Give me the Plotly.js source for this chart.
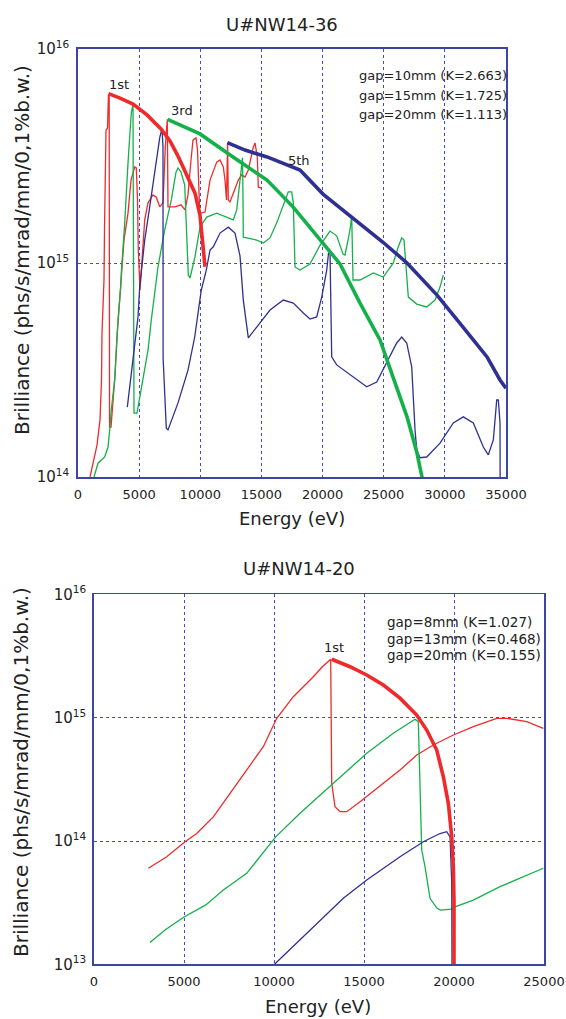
<!DOCTYPE html>
<html>
<head>
<meta charset="utf-8">
<script src="https://cdn.plot.ly/plotly-3.0.1.min.js"></script>
<style>html,body{margin:0;padding:0;background:#fff;}#chart{width:566px;height:1019px;}</style>
</head>
<body>
<div id="chart"></div>
<script>
// ---------- Top chart: U#NW14-36 ----------
const topTitle = "U#NW14-36";
const topLegend = ["gap=10mm (K=2.663)", "gap=15mm (K=1.725)", "gap=20mm (K=1.113)"];
const topXTicks = [0, 5000, 10000, 15000, 20000, 25000, 30000, 35000];
const topYTicks = [1e14, 1e15, 1e16];
const topYTickText = ["10<sup>14</sup>", "10<sup>15</sup>", "10<sup>16</sup>"];

// thin spectra
const topRedE = [981,1227,1554,1799,1922,1963,2126,2167,2208,2290,2413,2460,2490,2550,2580,2700,2862,3026,3189,3410,3541,3762,4089,4334,4637,4768,4866,4931,5070,5234,5455,5725,6134,6403,6681,6951,7139,7303,7360,7933,8423,8750,8996,9241,9405,9650,9773,9953,10059,10386,10795,11343,11613,11883,12022,12144,12185,12234,12292,12431,12701,13109,13387,13657,13927,14336,14475,14663,14745,15023];
const topRedB = [1.0e14,1.17e14,1.41e14,1.85e14,2.84e14,4.71e14,8.33e14,1.43e15,2.58e15,4.18e15,4.27e15,5.78e15,6.1e15,6.0e15,1.71e14,1.71e14,2.29e14,3.0e14,4.51e14,6.93e14,9.27e14,1.28e15,1.71e15,2.44e15,2.81e15,2.78e15,1.97e15,1.15e15,7.48e14,1.03e15,1.59e15,1.91e15,2.08e15,2.03e15,1.83e15,1.91e15,3.48e15,4.69e15,1.83e15,1.83e15,1.87e15,1.77e15,2.08e15,3.03e15,3.76e15,3.84e15,3.37e15,1.73e15,1.71e15,1.73e15,2.44e15,2.96e15,3.03e15,2.81e15,2.44e15,1.97e15,3.64e15,3.64e15,1.97e15,1.93e15,2.12e15,2.44e15,2.58e15,2.52e15,2.72e15,3.48e15,3.64e15,3.13e15,2.26e15,2.24e15];

const topGreenE = [1309,1636,2184,2453,2592,2723,3001,3132,3271,3492,3541,3819,3950,4089,4228,4359,4498,4539,4580,4825,5152,5455,5725,5994,6215,6542,7090,7630,8014,8178,8423,8726,8873,9020,9159,9568,9977,10525,11343,12161,12701,12979,13248,13453,13494,13518,13796,14614,15154,15702,16250,16765,17198,17476,17607,17746,18155,18973,19791,20609,21157,21672,21835,22081,22244,22383,22490,23062,24150,24967,25785,26194,26472,26660,26881,27012,27699,28517,29195,29604,29874];
const topGreenB = [1.0e14,1.16e14,1.24e14,1.38e14,1.66e14,2.06e14,2.84e14,3.80e14,5.42e14,7.72e14,8.98e14,1.54e15,2.19e15,2.93e15,3.88e15,5.02e15,5.53e15,1.97e15,1.99e14,1.99e14,2.55e14,3.23e14,3.92e14,5.42e14,6.71e14,9.58e14,1.43e15,1.97e15,2.66e15,2.78e15,2.66e15,2.31e15,1.43e15,8.79e14,8.51e14,1.07e15,1.47e15,1.64e15,1.71e15,1.64e15,1.59e15,1.77e15,2.44e15,3.10e15,1.97e15,1.32e15,1.31e15,1.28e15,1.24e15,1.31e15,1.54e15,1.87e15,2.15e15,2.15e15,1.91e15,9.58e14,9.27e14,9.89e14,1.21e15,1.41e15,1.34e15,1.10e15,1.09e15,1.28e15,1.43e15,1.66e15,8.33e14,8.33e14,8.98e14,8.60e14,1.0e15,1.19e15,1.31e15,1.28e15,8.79e14,6.93e14,6.43e14,6.23e14,6.71e14,7.72e14,8.79e14];

const topBlueE = [4032,4228,4359,4637,4907,5046,5177,5455,5864,6272,6681,6870,6951,6960,7221,7360,8178,8996,9544,10083,10492,10795,11065,11613,12292,12839,13248,13518,13796,13927,14614,15702,16789,17607,18425,18973,19521,19930,20339,20486,20609,20690,20747,21157,22514,23610,24428,25245,26063,26472,26881,27290,27421,27560,27699,27968,28517,29604,30692,31510,32328,33146,33555,33964,34241,34372,34511,34520];
const topBlueB = [2.12e14,2.64e14,2.93e14,4.23e14,5.60e14,7.72e14,9.08e14,1.28e15,1.83e15,2.72e15,3.84e15,4.25e15,3.48e15,3.60e14,1.69e14,1.66e14,2.22e14,3.16e14,4.51e14,7.48e14,9.27e14,1.15e15,1.19e15,1.38e15,1.47e15,1.38e15,1.08e15,6.71e14,4.86e14,4.47e14,5.02e14,6.03e14,6.71e14,6.50e14,5.84e14,5.47e14,5.60e14,6.93e14,9.27e14,1.11e15,1.12e15,6.71e14,3.64e14,3.34e14,2.93e14,2.64e14,2.78e14,3.41e14,4.23e14,4.51e14,4.23e14,3.27e14,2.29e14,1.66e14,1.34e14,1.23e14,1.24e14,1.44e14,1.79e14,1.91e14,1.79e14,1.38e14,1.27e14,1.49e14,2.29e14,2.29e14,1.79e14,9.0e13];

// thick harmonic tuning curves
const top1stE = [2494,3435,4498,5643,6788,7524,8178,8914,9568,9977,10222,10386];
const top1stB = [6.19e15,5.90e15,5.53e15,4.92e15,4.23e15,3.72e15,3.16e15,2.58e15,2.12e15,1.67e15,1.21e15,9.6e14];
const top3rdE = [7319,8750,9977,12676,15456,17583,20036,21426,23062,24698,25761,26906,27724,28132,28300];
const top3rdB = [4.69e15,4.33e15,4.01e15,3.13e15,2.44e15,1.83e15,1.24e15,9.9e14,6.5e14,4.37e14,2.93e14,1.91e14,1.29e14,1.0e14,9.0e13];
const top5thE = [12210,13657,15456,18155,20036,22244,24943,26906,29359,31485,33448,34511,34920,35000];
const top5thB = [3.65e15,3.37e15,3.13e15,2.72e15,2.10e15,1.67e15,1.25e15,1.0e15,7.08e14,5.02e14,3.64e14,2.84e14,2.64e14,2.6e14];

// ---------- Bottom chart: U#NW14-20 ----------
const botTitle = "U#NW14-20";
const botLegend = ["gap=8mm (K=1.027)", "gap=13mm (K=0.468)", "gap=20mm (K=0.155)"];
const botXTicks = [0, 5000, 10000, 15000, 20000, 25000];
const botYTicks = [1e13, 1e14, 1e15, 1e16];
const botYTickText = ["10<sup>13</sup>", "10<sup>14</sup>", "10<sup>15</sup>", "10<sup>16</sup>"];

const botRedE = [3017,4039,5056,5706,6628,7556,8484,9406,10151,11073,12184,12700,13151,13178,13206,13390,13668,14040,14779,16073,17001,17929,18851,19963,21073,22373,22929,24040,24963];
const botRedB = [6.01e13,7.46e13,9.86e13,1.15e14,1.57e14,2.44e14,3.77e14,5.82e14,9.89e14,1.48e15,2.15e15,2.6e15,2.98e15,1.39e15,2.94e14,1.90e14,1.73e14,1.73e14,2.08e14,2.94e14,3.77e14,4.98e14,6.01e14,7.24e14,8.45e14,9.89e14,9.89e14,9.29e14,8.20e14];

const botGreenE = [3111,3945,5000,6212,7184,8484,10095,11445,13296,15151,16629,17834,18018,18112,18206,18390,18668,19045,19245,19851,20051,21073,22556,24963];
const botGreenB = [1.50e13,1.90e13,2.42e13,3.03e13,4.01e13,5.47e13,1.08e14,1.68e14,2.94e14,5.14e14,7.47e14,9.71e14,9.29e14,2.94e14,8.45e13,6.19e13,3.43e13,2.86e13,2.75e13,2.80e13,2.92e13,3.32e13,4.26e13,6.01e13];

const botBlueE = [10028,11445,13851,15151,17001,18296,19223,19596,19780,19874,19890];
const botBlueB = [1.0e13,1.57e13,3.43e13,4.83e13,7.46e13,9.86e13,1.15e14,1.19e14,1.08e14,4.54e13,9.0e12];

const bot1stE = [13206,14223,15151,16073,17001,17929,18485,19040,19407,19685,19874,19963,20000,20000];
const bot1stB = [2.98e15,2.59e15,2.22e15,1.84e15,1.44e15,1.05e15,7.94e14,5.47e14,3.32e14,2.02e14,1.08e14,6.19e13,3.32e13,9.0e12];

// ---------- styling ----------
const W = 566, H = 1019;
const px = v => v / W;
const py = v => 1 - v / H;
const RED = '#f02a2a', GREEN = '#14b04a', BLUE = '#2e3192';
const THIN = 1.3, THICK = 3.6;
const FONT = 'DejaVu Sans, Liberation Sans, Arial, sans-serif';
const TXT = '#222222';
const AX = '#3c44a6';

function tr(x, y, color, width, xa, ya) {
  return {x: x, y: y, type: 'scatter', mode: 'lines', xaxis: xa, yaxis: ya,
          line: {color: color, width: width}, hoverinfo: 'skip', showlegend: false};
}

const data = [
  tr(topRedE, topRedB, RED, THIN, 'x', 'y'),
  tr(topGreenE, topGreenB, GREEN, THIN, 'x', 'y'),
  tr(topBlueE, topBlueB, BLUE, THIN, 'x', 'y'),
  tr(top1stE, top1stB, RED, THICK, 'x', 'y'),
  tr(top3rdE, top3rdB, GREEN, THICK, 'x', 'y'),
  tr(top5thE, top5thB, BLUE, THICK, 'x', 'y'),
  tr(botRedE, botRedB, RED, THIN, 'x2', 'y2'),
  tr(botGreenE, botGreenB, GREEN, THIN, 'x2', 'y2'),
  tr(botBlueE, botBlueB, BLUE, THIN, 'x2', 'y2'),
  tr(bot1stE, bot1stB, RED, THICK, 'x2', 'y2')
];

const axCommon = {
  showline: true, mirror: true, linecolor: AX, linewidth: 1.8,
  showgrid: true, gridcolor: '#4848cc', griddash: 'dot', gridwidth: 1,
  zeroline: false, ticks: '', fixedrange: true,
  tickfont: {family: FONT, size: 13, color: TXT}
};
const yTickFont = {family: FONT, size: 15, color: TXT};

const layout = {
  width: W, height: H, margin: {l: 0, r: 0, t: 0, b: 0},
  paper_bgcolor: '#ffffff', plot_bgcolor: '#ffffff', showlegend: false,
  xaxis: Object.assign({}, axCommon, {domain: [px(78), px(506)], range: [0, 35000], anchor: 'y',
    tickmode: 'array', tickvals: topXTicks, ticktext: topXTicks.map(String), ticklabelstandoff: 5}),
  yaxis: Object.assign({}, axCommon, {domain: [py(477), py(49)], type: 'log', range: [14, 16], anchor: 'x',
    tickmode: 'array', tickvals: topYTicks, ticktext: topYTickText, ticklabelstandoff: 4, tickfont: yTickFont}),
  xaxis2: Object.assign({}, axCommon, {domain: [px(94), px(544)], range: [0, 25000], anchor: 'y2',
    tickmode: 'array', tickvals: botXTicks, ticktext: botXTicks.map(String), ticklabelstandoff: 4}),
  yaxis2: Object.assign({}, axCommon, {domain: [py(964.3), py(594.4)], type: 'log', range: [13, 16], anchor: 'x2',
    tickmode: 'array', tickvals: botYTicks, ticktext: botYTickText, ticklabelstandoff: 3, tickfont: yTickFont}),
  annotations: []
};

function ann(text, x, y, size, opts) {
  layout.annotations.push(Object.assign({
    text: text, xref: 'paper', yref: 'paper', x: px(x), y: py(y),
    xanchor: 'center', yanchor: 'middle', showarrow: false,
    font: {family: FONT, size: size, color: TXT}
  }, opts || {}));
}

// titles
ann(topTitle, 282, 25, 18);
ann(botTitle, 299, 568, 18);
// axis titles
ann('Energy (eV)', 292, 518, 18);
ann('Energy (eV)', 318, 1006, 18);
ann('Brilliance (phs/s/mrad/mm/0,1%b.w.)', 22, 250, 20, {textangle: -90});
ann('Brilliance (phs/s/mrad/mm/0,1%b.w.)', 21, 772, 20, {textangle: -90});
// harmonic labels
ann('1st', 119, 85, 13);
ann('3rd', 182, 110, 13);
ann('5th', 299, 160, 13);
ann('1st', 334, 647, 13);
// gap legends
topLegend.forEach((t, i) => ann(t, 357, [75, 95, 114][i], 13, {xanchor: 'left'}));
botLegend.forEach((t, i) => ann(t, 385, [622, 638.5, 655][i], 13.5, {xanchor: 'left'}));

Plotly.newPlot('chart', data, layout, {staticPlot: true, displayModeBar: false});
</script>
</body>
</html>
